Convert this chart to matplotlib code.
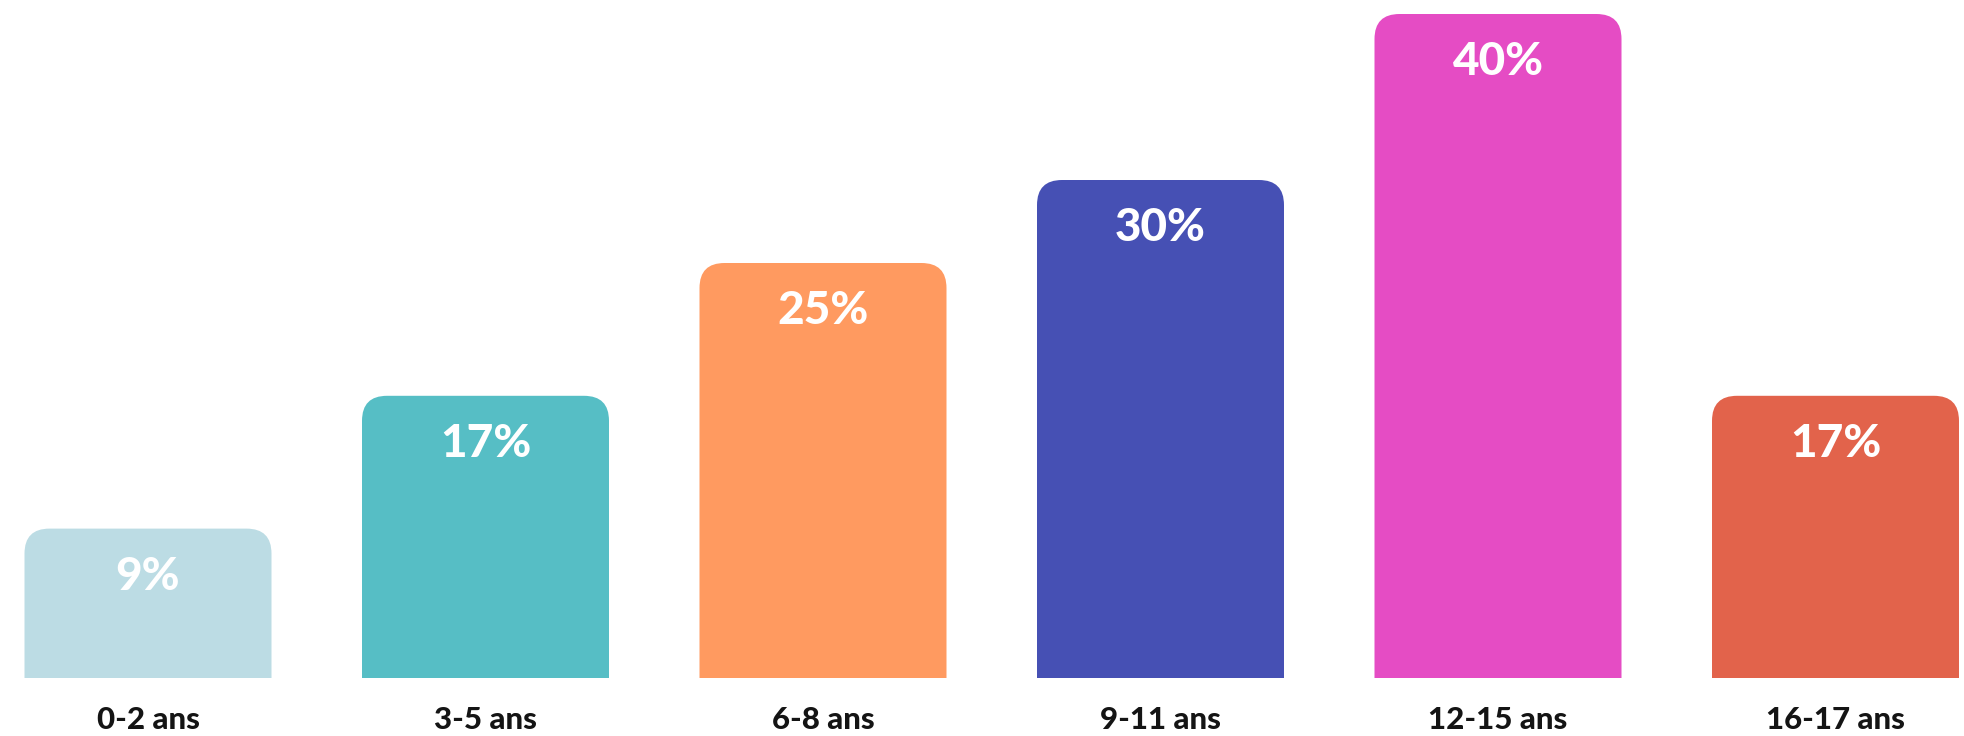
import matplotlib.pyplot as plt
from matplotlib.patches import FancyBboxPatch

categories = ["0-2 ans", "3-5 ans", "6-8 ans", "9-11 ans", "12-15 ans", "16-17 ans"]
values = [9, 17, 25, 30, 40, 17]
labels = ["9%", "17%", "25%", "30%", "40%", "17%"]
colors = ["#BCDCE4", "#56BEC5", "#FF9A60", "#4650B4", "#E54CC4", "#E2634B"]

W, H, DPI = 1964, 736, 100
plt.rcParams['font.family'] = ['Lato', 'DejaVu Sans']

fig = plt.figure(figsize=(W / DPI, H / DPI), dpi=DPI)
# axes spans full width; baseline sits 58px above the bottom edge
ax = fig.add_axes([0, 58 / H, 1, 664 / H])
step_px = 337.5
first_px = 148
ax.set_xlim(-first_px / step_px, (W - first_px) / step_px)
ax.set_ylim(0, max(values))
ax.axis('off')

bar_w = 247 / step_px
rx = 25 / step_px
ry = 25 / 664 * max(values)

for i, (v, c, lab) in enumerate(zip(values, colors, labels)):
    # extend below zero so only the top corners show rounded
    patch = FancyBboxPatch((i - bar_w / 2, -5), bar_w, v + 5,
                           boxstyle=f"round,pad=0,rounding_size={rx}",
                           mutation_aspect=ry / rx,
                           facecolor=c, edgecolor='none', clip_on=True)
    ax.add_patch(patch)
    ax.annotate(lab, (i, v), xytext=(0, -48 * 72 / DPI), textcoords='offset points',
                ha='center', va='center', color='white', fontsize=33,
                fontweight='black')
    ax.annotate(categories[i], (i, 0), xytext=(0, -42 * 72 / DPI),
                textcoords='offset points', ha='center', va='center',
                color='#141414', fontsize=22.5, fontweight='black',
                annotation_clip=False)

fig.savefig("out.png", dpi=DPI, facecolor='white')
